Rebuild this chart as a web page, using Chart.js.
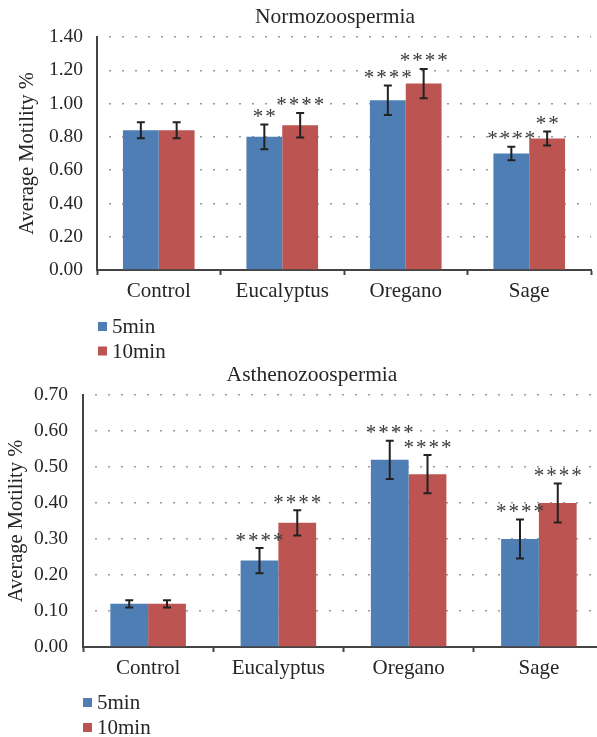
<!DOCTYPE html>
<html><head><meta charset="utf-8">
<script src="https://cdn.jsdelivr.net/npm/chart.js@4"></script>
<style>
html,body{margin:0;padding:0;overflow:hidden;background:#fff;width:597px;height:737px;}
#c1{position:absolute;left:0;top:0;}
#c2{position:absolute;left:0;top:362px;}
</style></head><body>
<canvas id="c1" width="597" height="362"></canvas>
<canvas id="c2" width="612" height="375"></canvas>
<script>
const categories = ['Control', 'Eucalyptus', 'Oregano', 'Sage'];
const seriesNames = ['5min', '10min'];
const yAxisTitle = 'Average Motility %';

const normoTitle = 'Normozoospermia';
const normo5 = [0.84, 0.80, 1.02, 0.70];
const normo10 = [0.84, 0.87, 1.12, 0.79];
const normo5Err = [0.048, 0.075, 0.088, 0.041];
const normo10Err = [0.048, 0.074, 0.088, 0.042];
const normo5Sig = ['', '**', '****', '****'];
const normo10Sig = ['', '****', '****', '**'];
const normoTicks = { min: 0, max: 1.4, step: 0.2 };

const asthenoTitle = 'Asthenozoospermia';
const astheno5 = [0.12, 0.24, 0.52, 0.30];
const astheno10 = [0.12, 0.345, 0.48, 0.40];
const astheno5Err = [0.01, 0.035, 0.053, 0.054];
const astheno10Err = [0.01, 0.035, 0.053, 0.054];
const astheno5Sig = ['', '****', '****', '****'];
const astheno10Sig = ['', '****', '****', '****'];
const asthenoTicks = { min: 0, max: 0.7, step: 0.1 };

const BLUE = '#4F7EB5';
const RED = '#BC5452';
const FONT = '"Liberation Serif", "Times New Roman", serif';
const TXT = '#262626';

const overlay = {
  id: 'overlay',
  afterDatasetsDraw(chart, args, o) {
    const ctx = chart.ctx;
    const ys = chart.scales.y;
    ctx.save();
    chart.data.datasets.forEach((ds, di) => {
      const meta = chart.getDatasetMeta(di);
      meta.data.forEach((bar, i) => {
        const v = ds.data[i], e = ds.err[i];
        const x = bar.x;
        const yt = ys.getPixelForValue(v + e), yb = ys.getPixelForValue(v - e);
        ctx.strokeStyle = '#222';
        ctx.lineWidth = 2;
        ctx.beginPath();
        ctx.moveTo(x, yt); ctx.lineTo(x, yb);
        ctx.moveTo(x - 4, yt); ctx.lineTo(x + 4, yt);
        ctx.moveTo(x - 4, yb); ctx.lineTo(x + 4, yb);
        ctx.stroke();
        const s = ds.sig[i];
        if (s) {
          ctx.fillStyle = '#3a3a3a';
          ctx.font = '21px ' + FONT;
          ctx.textAlign = 'center';
          ctx.textBaseline = 'alphabetic';
          const n = s.length, pitch = 12.5;
          for (let k = 0; k < n; k++) ctx.fillText('*', x + (k - (n - 1) / 2) * pitch, yt - 1.5);
        }
      });
    });
    // title
    ctx.fillStyle = TXT;
    ctx.font = '21.5px ' + FONT;
    ctx.textAlign = 'center';
    ctx.textBaseline = 'middle';
    ctx.fillText(o.title, o.titleX, o.titleY);
    // legend
    ctx.font = '21px ' + FONT;
    ctx.textAlign = 'left';
    chart.data.datasets.forEach((ds, di) => {
      const cy = o.legY + di * o.legGap;
      ctx.fillStyle = ds.backgroundColor;
      ctx.fillRect(o.legX, cy - 4.5, 9, 9);
      ctx.fillStyle = TXT;
      ctx.fillText(ds.label, o.legX + 14, cy + 1);
    });
    ctx.restore();
  }
};

function makeChart(id, d5, d10, e5, e10, s5, s10, tk, cfg) {
  return new Chart(document.getElementById(id), {
    type: 'bar',
    data: {
      labels: categories,
      datasets: [
        { label: seriesNames[0], data: d5, err: e5, sig: s5, backgroundColor: BLUE, borderWidth: 0 },
        { label: seriesNames[1], data: d10, err: e10, sig: s10, backgroundColor: RED, borderWidth: 0 }
      ]
    },
    options: {
      responsive: false,
      animation: false,
      devicePixelRatio: 1,
      layout: { padding: cfg.padding },
      datasets: { bar: { barPercentage: 1, categoryPercentage: 0.58 } },
      plugins: {
        legend: { display: false },
        title: { display: false },
        tooltip: { enabled: false },
        overlay: cfg.overlay
      },
      scales: {
        x: {
          afterFit: s => { s.height = 40; },
          grid: { display: true, offset: true, drawOnChartArea: false, drawTicks: true, tickLength: 5, tickColor: '#444', tickWidth: 2 },
          border: { display: true, color: '#444', width: 2 },
          ticks: { color: TXT, font: { family: FONT, size: 21 }, padding: 4 }
        },
        y: {
          min: tk.min, max: tk.max,
          afterFit: s => { s.width = cfg.yWidth; },
          grid: { color: '#9a9a9a', lineWidth: 1.5, drawTicks: false },
          border: { display: true, color: '#444', width: 2, dash: [2, 11], dashOffset: -11 },
          ticks: {
            stepSize: tk.step, color: TXT, padding: cfg.tickPad,
            font: { family: FONT, size: 19.5 },
            callback: v => Number(v).toFixed(2)
          },
          title: { display: true, text: yAxisTitle, color: TXT, font: { family: FONT, size: 20.5 }, padding: { top: cfg.titlePad, bottom: 0 } }
        }
      }
    },
    plugins: [overlay]
  });
}

makeChart('c1', normo5, normo10, normo5Err, normo10Err, normo5Sig, normo10Sig, normoTicks, {
  padding: { top: 37, right: 6, bottom: 52, left: 0 },
  yWidth: 97, tickPad: 14, titlePad: 15,
  overlay: { title: normoTitle, titleX: 335, titleY: 17, legX: 98, legY: 326.5, legGap: 24.5 }
});
makeChart('c2', astheno5, astheno10, astheno5Err, astheno10Err, astheno5Sig, astheno10Sig, asthenoTicks, {
  padding: { top: 33, right: 8, bottom: 50, left: 0 },
  yWidth: 83, tickPad: 15, titlePad: 4,
  overlay: { title: asthenoTitle, titleX: 312, titleY: 13, legX: 83, legY: 340.5, legGap: 25 }
});
</script>
</body></html>
